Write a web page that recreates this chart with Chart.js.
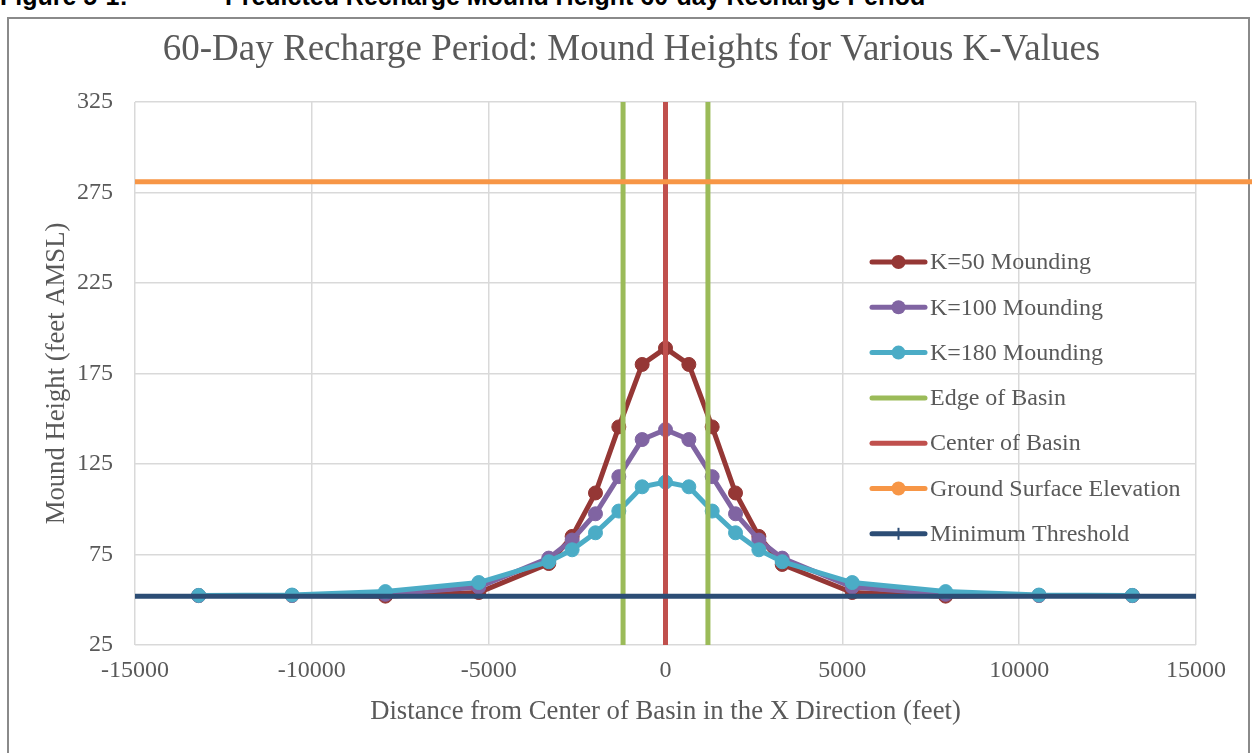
<!DOCTYPE html>
<html lang="en">
<head>
<meta charset="UTF-8">
<title>60-Day Recharge Period: Mound Heights</title>
<script src="https://cdn.jsdelivr.net/npm/chart.js"></script>
<style>
    body {
        margin: 0;
        width: 1252px;
        height: 753px;
        overflow: hidden;
        position: relative;
        background: #fff;
    }
    .caption {
        position: absolute;
        top: -16px;
        font: bold 25px/25px "Liberation Sans", Arial, sans-serif;
        white-space: pre;
        color: #000;
    }
    .frame {
        position: absolute;
        left: 7px;
        top: 17px;
        width: 1243px;
        height: 760px;
        border: 2px solid #8a8a8a;
        box-sizing: border-box;
    }
    #wrap {
        position: absolute;
        left: 0;
        top: 0;
    }
</style>
</head>
<body>
<div class="caption" style="left:0">Figure 5-1:</div>
<div class="caption" style="left:225px">Predicted Recharge Mound Height 60-day Recharge Period</div>
<div class="frame"></div>
<div id="wrap">
    <canvas id="moundChart" width="1252" height="753"></canvas>
</div>
<script>
    // distance from basin centre (feet) and mound heights (feet AMSL)
    const distanceFt = [-13200, -10560, -7920, -5280, -3300, -2640, -1980, -1320, -660, 0, 660, 1320, 1980, 2640, 3300, 5280, 7920, 10560, 13200];
    const k50 = [52.3, 52.4, 52, 54, 70, 85, 109, 145.5, 180, 189, 180, 145.5, 109, 85, 69.5, 54, 52, 52.4, 52.3];
    const k100 = [52.3, 52.4, 53, 57, 73, 83, 97.5, 118, 138.5, 144, 138.5, 118, 97.5, 83, 73, 57, 53, 52.4, 52.3];
    const k180 = [52.4, 52.6, 54.5, 59.5, 71, 77.6, 87, 99, 112.4, 115, 112.4, 99, 87, 77.6, 71, 59.5, 54.5, 52.6, 52.4];

    const basinEdgeX = [-1200, 1200];
    const basinCenterX = [0];
    const groundSurface = 281;
    const minThreshold = 52;

    const xRange = [-15000, 15000];
    const groundX = [-15000, 16600];
    const yRange = [25, 325];
    const xStep = 5000;
    const yStep = 50;

    const chartTitle = '60-Day Recharge Period: Mound Heights for Various K-Values';
    const seriesNames = ['K=50 Mounding', 'K=100 Mounding', 'K=180 Mounding', 'Edge of Basin',
        'Center of Basin', 'Ground Surface Elevation', 'Minimum Threshold'];
    const seriesColors = ['#953735', '#8064a2', '#4bacc6', '#9bbb59', '#c0504d', '#f79646', '#2c4d75'];
    const legendMarks = ['circle', 'circle', 'circle', 'none', 'none', 'circle', 'cross'];

    const textColor = '#595959';
    const serif = '"Liberation Serif", "Times New Roman", serif';

    function pts(xs, ys) {
        return xs.map((x, i) => ({ x: x, y: ys[i] }));
    }

    // vertical lines, separated by a gap point
    function verticals(xs) {
        const out = [];
        xs.forEach((x, i) => {
            if (i > 0) out.push({ x: x, y: null });
            out.push({ x: x, y: yRange[0] }, { x: x, y: yRange[1] });
        });
        return out;
    }

    function mound(i, data) {
        return {
            label: seriesNames[i],
            data: pts(distanceFt, data),
            borderColor: seriesColors[i],
            backgroundColor: seriesColors[i],
            borderWidth: 5,
            pointRadius: 7,
            pointBorderWidth: 1,
            showLine: true,
            order: 10 - i
        };
    }

    function plainLine(i, data, extra) {
        return Object.assign({
            label: seriesNames[i],
            data: data,
            borderColor: seriesColors[i],
            backgroundColor: seriesColors[i],
            borderWidth: 5,
            pointRadius: 0,
            showLine: true,
            order: 10 - i
        }, extra || {});
    }

    // title centred on the figure frame, legend with line + marker samples
    const titleAndLegend = {
        id: 'titleAndLegend',
        afterDraw(chart) {
            const c = chart.ctx;
            c.save();
            c.font = '37px ' + serif;
            c.fillStyle = textColor;
            c.textAlign = 'center';
            c.textBaseline = 'middle';
            c.fillText(chartTitle, 631.5, 50);

            const x0 = 872, x1 = 925, mx = 898.5, tx = 930;
            c.font = '24px ' + serif;
            c.textAlign = 'left';
            seriesNames.forEach((name, i) => {
                const y = 262 + i * 45.3;
                c.strokeStyle = seriesColors[i];
                c.fillStyle = seriesColors[i];
                c.lineWidth = 5;
                c.lineCap = 'round';
                c.beginPath();
                c.moveTo(x0, y);
                c.lineTo(x1, y);
                c.stroke();
                if (legendMarks[i] === 'circle') {
                    c.beginPath();
                    c.arc(mx, y, 7, 0, Math.PI * 2);
                    c.fill();
                } else if (legendMarks[i] === 'cross') {
                    c.lineWidth = 2;
                    c.lineCap = 'butt';
                    c.beginPath();
                    c.moveTo(mx, y - 6);
                    c.lineTo(mx, y + 6);
                    c.stroke();
                }
                c.fillStyle = textColor;
                c.fillText(name, tx, y + 1);
            });
            c.restore();
        }
    };

    const ctx = document.getElementById('moundChart').getContext('2d');
    const moundChart = new Chart(ctx, {
        type: 'scatter',
        data: {
            datasets: [
                mound(0, k50),
                mound(1, k100),
                mound(2, k180),
                plainLine(3, verticals(basinEdgeX)),
                plainLine(4, verticals(basinCenterX)),
                plainLine(5, pts(groundX, [groundSurface, groundSurface]), { clip: { left: 0, top: 0, bottom: 0, right: 60 } }),
                plainLine(6, pts(xRange, [minThreshold, minThreshold]))
            ]
        },
        options: {
            responsive: false,
            animation: false,
            devicePixelRatio: 1,
            layout: { padding: { left: 0, right: 56, top: 102, bottom: 0 } },
            plugins: {
                legend: { display: false },
                tooltip: { enabled: false },
                title: { display: false }
            },
            scales: {
                x: {
                    type: 'linear',
                    min: xRange[0],
                    max: xRange[1],
                    afterFit: (s) => { s.height = 108; },
                    ticks: {
                        stepSize: xStep,
                        color: textColor,
                        padding: 11,
                        font: { family: serif, size: 24 },
                        callback: (v) => String(v)
                    },
                    grid: { color: '#d9d9d9', lineWidth: 1.5, drawTicks: false },
                    border: { display: false },
                    title: {
                        display: true,
                        text: 'Distance from Center of Basin in the X Direction (feet)',
                        color: textColor,
                        font: { family: serif, size: 26.7, weight: 'normal' },
                        padding: { top: 0, bottom: 25 }
                    }
                },
                y: {
                    type: 'linear',
                    min: yRange[0],
                    max: yRange[1],
                    afterFit: (s) => { s.width = 135; },
                    ticks: {
                        stepSize: yStep,
                        color: textColor,
                        padding: 22,
                        font: { family: serif, size: 24 },
                        callback: (v) => String(v)
                    },
                    grid: { color: '#d9d9d9', lineWidth: 1.5, drawTicks: false },
                    border: { display: false },
                    title: {
                        display: true,
                        text: 'Mound Height (feet AMSL)',
                        color: textColor,
                        font: { family: serif, size: 26.7, weight: 'normal' },
                        padding: { top: 41, bottom: 0 }
                    }
                }
            }
        },
        plugins: [titleAndLegend]
    });
</script>
</body>
</html>
